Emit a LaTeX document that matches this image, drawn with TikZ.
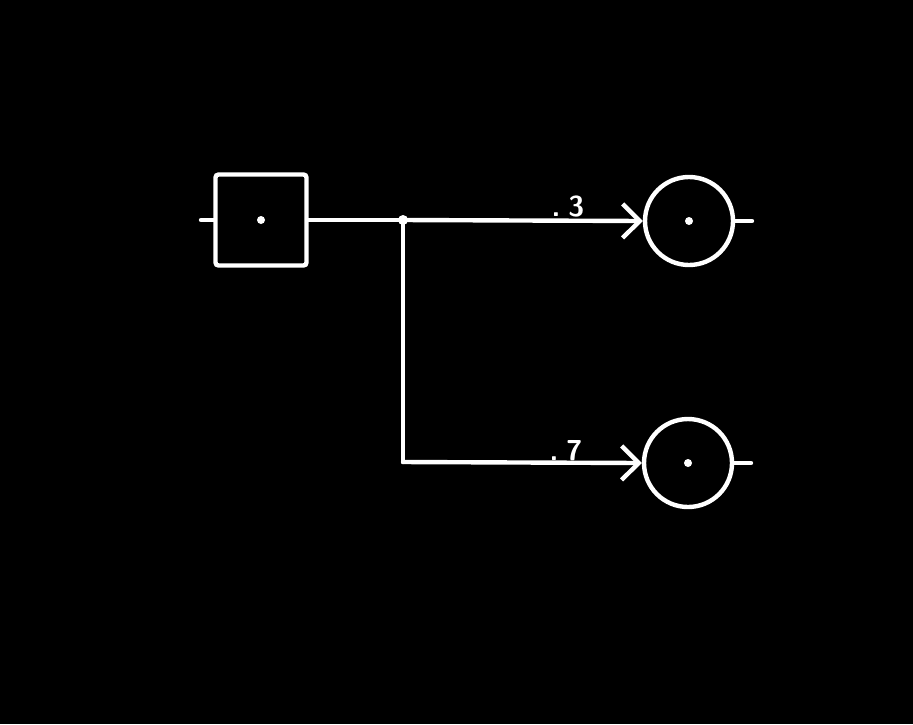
\documentclass[tikz,border=0pt]{standalone}
\usetikzlibrary{arrows.meta}
\begin{document}
\begin{tikzpicture}[x=0.5pt,y=-0.5pt,
  wire/.style={draw=white,line width=2.2pt,line cap=round,line join=round},
  decbox/.style={draw=white,line width=2.2pt,minimum size=45.5pt,inner sep=0pt,rounded corners=1.5pt},
  chance/.style={draw=white,line width=2.2pt,circle,minimum size=44pt,inner sep=0pt},
  dotc/.style={fill=white,circle,inner sep=0pt,minimum size=4pt},
  prob/.style={text=white,font=\sffamily\bfseries\Large,inner sep=0pt},
  arr/.style={-{Straight Barb[length=8.5pt,width=17pt,line width=2.2pt]}}]
\fill[black] (0,0) rectangle (913,724);
\useasboundingbox (0,0) rectangle (913,724);
\node[decbox] (d) at (261,220) {};
\node[dotc] (dd) at (261,220) {};
\node[chance] (c1) at (689,221) {};
\node[dotc] (c1d) at (689,221) {};
\node[chance] (c2) at (688,463) {};
\node[dotc] (c2d) at (688,463) {};
\coordinate (dl) at (201,220);
\coordinate (j) at (403,220);
\coordinate (k) at (403,462);
\coordinate (c1r) at (752,221);
\coordinate (c2r) at (751,463);
\node[dotc,minimum size=5pt] (jd) at (j) {};
\draw[wire] (dl) -- (d.west);
\draw[wire] (d.east) -- (j);
\draw[wire,arr] (j) -- (c1.west);
\draw[wire] (j) -- (k);
\draw[wire,arr] (k) -- (c2.west);
\draw[wire] (c1.east) -- (c1r);
\draw[wire] (c2.east) -- (c2r);
\node[prob] (p3) at (568,206) {.\hspace{4pt}3};
\node[prob] (p7) at (566,451) {.\hspace{4pt}7};
\end{tikzpicture}
\end{document}
